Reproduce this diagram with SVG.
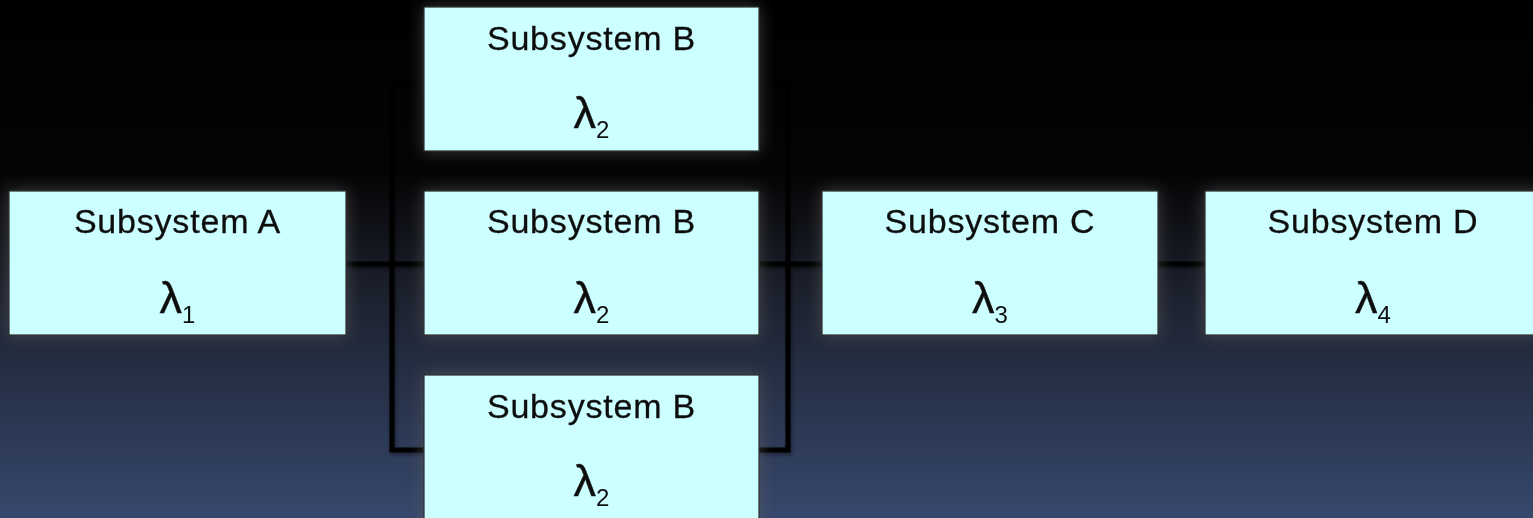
<svg xmlns="http://www.w3.org/2000/svg" width="1533" height="518" viewBox="0 0 1533 518">
<defs>
<linearGradient id="bg" x1="0" y1="0" x2="0" y2="1">
<stop offset="0" stop-color="#000000"/>
<stop offset="0.33" stop-color="#040404"/>
<stop offset="0.55" stop-color="#1b1f2b"/>
<stop offset="1" stop-color="#36486d"/>
</linearGradient>
<filter id="glow" x="-10%" y="-20%" width="120%" height="140%">
<feGaussianBlur in="SourceAlpha" stdDeviation="8" result="b"/>
<feFlood flood-color="#5f5f5f" flood-opacity="0.6"/>
<feComposite in2="b" operator="in" result="g"/>
<feMerge><feMergeNode in="g"/><feMergeNode in="SourceGraphic"/></feMerge>
</filter>
<filter id="lshadow" x="-10%" y="-10%" width="120%" height="120%">
<feGaussianBlur in="SourceAlpha" stdDeviation="2" result="b"/>
<feOffset dx="1" dy="2"/>
<feComponentTransfer><feFuncA type="linear" slope="0.5"/></feComponentTransfer>
<feMerge><feMergeNode/><feMergeNode in="SourceGraphic"/></feMerge>
</filter>
</defs>
<style>
.box{fill:#ccffff;stroke:#2a2a2a;stroke-width:1.2}
.t{font-family:"Liberation Sans",Arial,sans-serif;font-size:34px;fill:#111;text-anchor:middle;letter-spacing:0.8px;stroke:#111;stroke-width:0.3}
.l{font-family:"Liberation Sans",Arial,sans-serif;font-size:45px;fill:#111;stroke:#111;stroke-width:0.4}
.s{font-family:"Liberation Sans",Arial,sans-serif;font-size:24px;fill:#111}
.c{fill:none;stroke:#000;stroke-width:5;stroke-linejoin:miter;stroke-linecap:butt}
</style>
<rect x="0" y="0" width="1533" height="518" fill="url(#bg)"/>
<g id="connectors" filter="url(#lshadow)">
<path class="c" d="M346 264 H424"/>
<path class="c" d="M424 85 H392 V450 H424"/>
<path class="c" d="M759 85 H788 V450 H759"/>
<path class="c" d="M759 264 H822"/>
<path class="c" d="M1158 264 H1205"/>
</g>
<g id="nodeA" filter="url(#glow)">
<rect class="box" x="9" y="191" width="337" height="144"/>
<text class="t" x="177.5" y="233">Subsystem A</text>
<text x="177.5" y="313" text-anchor="middle"><tspan class="l">λ</tspan><tspan class="s" dy="10">1</tspan></text>
</g>
<g id="nodeB1" filter="url(#glow)">
<rect class="box" x="424" y="7" width="335" height="144"/>
<text class="t" x="591.5" y="50">Subsystem B</text>
<text x="591.5" y="128" text-anchor="middle"><tspan class="l">λ</tspan><tspan class="s" dy="10">2</tspan></text>
</g>
<g id="nodeB2" filter="url(#glow)">
<rect class="box" x="424" y="191" width="335" height="144"/>
<text class="t" x="591.5" y="233">Subsystem B</text>
<text x="591.5" y="313" text-anchor="middle"><tspan class="l">λ</tspan><tspan class="s" dy="10">2</tspan></text>
</g>
<g id="nodeB3" filter="url(#glow)">
<rect class="box" x="424" y="375" width="335" height="160"/>
<text class="t" x="591.5" y="418">Subsystem B</text>
<text x="591.5" y="496" text-anchor="middle"><tspan class="l">λ</tspan><tspan class="s" dy="10">2</tspan></text>
</g>
<g id="nodeC" filter="url(#glow)">
<rect class="box" x="822" y="191" width="336" height="144"/>
<text class="t" x="990" y="233">Subsystem C</text>
<text x="990" y="313" text-anchor="middle"><tspan class="l">λ</tspan><tspan class="s" dy="10">3</tspan></text>
</g>
<g id="nodeD" filter="url(#glow)">
<rect class="box" x="1205" y="191" width="345" height="144"/>
<text class="t" x="1373" y="233">Subsystem D</text>
<text x="1373" y="313" text-anchor="middle"><tspan class="l">λ</tspan><tspan class="s" dy="10">4</tspan></text>
</g>
</svg>
